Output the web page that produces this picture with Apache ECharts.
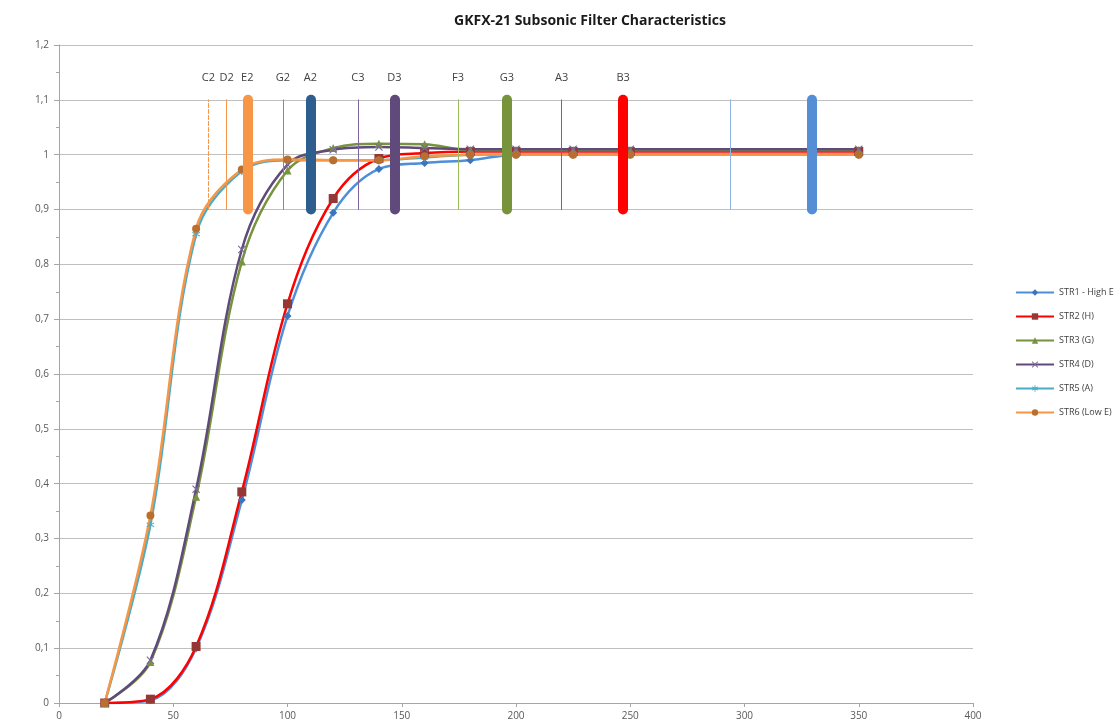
<!DOCTYPE html>
<html>
<head>
<meta charset="utf-8">
<script src="https://cdn.jsdelivr.net/npm/echarts@6/dist/echarts.min.js"></script>
<style>
  html, body { margin: 0; padding: 0; background: #fff; }
  #main { width: 1118px; height: 727px; }
</style>
</head>
<body>
<div id="main"></div>
<script>
// frequencies (Hz) measured
const freqs = [20, 40, 60, 80, 100, 120, 140, 160, 180, 200, 225, 250, 350];

const str1 = [0, 0.005, 0.1, 0.37, 0.706, 0.894, 0.974, 0.985, 0.99, 1.0, 1.0, 1.0, 1.0];
const str2 = [0, 0.007, 0.103, 0.385, 0.728, 0.92, 0.993, 1.003, 1.006, 1.006, 1.006, 1.006, 1.006];
const str3 = [0, 0.075, 0.376, 0.805, 0.971, 1.012, 1.02, 1.019, 1.008, 1.008, 1.008, 1.008, 1.008];
const str4 = [0, 0.078, 0.39, 0.827, 0.982, 1.009, 1.014, 1.012, 1.01, 1.01, 1.01, 1.01, 1.01];
const str5 = [0, 0.325, 0.855, 0.97, 0.99, 0.99, 0.99, 0.995, 1.0, 1.0, 1.0, 1.0, 1.0];
const str6 = [0, 0.342, 0.865, 0.973, 0.991, 0.99, 0.99, 0.997, 1.0, 1.0, 1.0, 1.0, 1.0];

const seriesNames = ['STR1 - High E', 'STR2 (H)', 'STR3 (G)', 'STR4 (D)', 'STR5 (A)', 'STR6 (Low E)'];

// note markers
const noteNames = ['C2', 'D2', 'E2', 'G2', 'A2', 'C3', 'D3', 'F3', 'G3', 'A3', 'B3', '', ''];
const noteFreqs = [65.4, 73.4, 82.4, 98.0, 110.0, 130.8, 146.8, 174.6, 196.0, 220.0, 246.9, 293.7, 329.6];
const noteLow = 0.9;
const noteHigh = 1.1;

const noteStyles = [
  { color: '#F79646', width: 1, type: 'dashed' },
  { color: '#F79646', width: 1 },
  { color: '#F79646', width: 10 },
  { color: '#6D8DBE', width: 1 },
  { color: '#2E5E8E', width: 10 },
  { color: '#8064A2', width: 1 },
  { color: '#604A7B', width: 10 },
  { color: '#9BBB59', width: 1 },
  { color: '#77933C', width: 10 },
  { color: '#FF3030', width: 1 },
  { color: '#FF0000', width: 10 },
  { color: '#8DB4E2', width: 1 },
  { color: '#558ED5', width: 10 },
];

const xMark = 'path://M0,1L1,0L5,4L9,0L10,1L6,5L10,9L9,10L5,6L1,10L0,9L4,5Z';
const starMark = 'path://M4.3,0H5.7V4L9,2L9.7,3.2L6.4,5L9.7,6.8L9,8L5.7,6V10H4.3V6L1,8L0.3,6.8L3.6,5L0.3,3.2L1,2L4.3,4Z';

function pairs(vals) {
  return freqs.map((f, i) => [f, vals[i]]);
}

const lineDefs = [
  { data: str1, color: '#4F8FD8', marker: '#3A75BE', symbol: 'diamond', size: 8 },
  { data: str2, color: '#FF0000', marker: '#953735', symbol: 'rect', size: 9 },
  { data: str3, color: '#77933C', marker: '#77933C', symbol: 'triangle', size: 8 },
  { data: str4, color: '#604A7B', marker: '#7B6A9B', symbol: xMark, size: 8 },
  { data: str5, color: '#4BACC6', marker: '#4BACC6', symbol: starMark, size: 8 },
  { data: str6, color: '#F79646', marker: '#B9702F', symbol: 'circle', size: 8 },
];

const series = lineDefs.map((d, i) => ({
  name: seriesNames[i],
  type: 'line',
  data: pairs(d.data),
  smooth: 0.35,
  symbol: d.symbol,
  symbolSize: d.size,
  lineStyle: { color: d.color, width: 2.5 },
  itemStyle: { color: d.marker },
  z: 2,
}));

series.push({
  name: 'notes',
  type: 'line',
  data: [],
  z: 4,
  markLine: {
    silent: true,
    symbol: ['none', 'none'],
    animation: false,
    label: {
      show: true,
      position: 'end',
      distance: 16,
      color: '#404040',
      fontSize: 11,
      fontFamily: 'Open Sans',
      formatter: p => p.name,
    },
    data: noteFreqs.map((f, i) => [
      {
        coord: [f, noteLow],
        name: noteNames[i],
        lineStyle: Object.assign({ cap: 'round', type: 'solid' }, noteStyles[i]),
      },
      { coord: [f, noteHigh] },
    ]),
  },
});

const chart = echarts.init(document.getElementById('main'));

chart.setOption({
  animation: false,
  textStyle: { fontFamily: 'Open Sans' },
  title: {
    text: 'GKFX-21 Subsonic Filter Characteristics',
    left: 585,
    textAlign: 'center',
    top: 9,
    textStyle: { fontSize: 14, fontWeight: 'bold', color: '#1a1a1a', fontFamily: 'Open Sans' },
  },
  legend: {
    data: seriesNames,
    orient: 'vertical',
    left: 1010,
    top: 283,
    itemWidth: 38,
    itemHeight: 8,
    itemGap: 15,
    textStyle: { fontSize: 9, color: '#404040' },
  },
  grid: { left: 59, right: 145, top: 45, bottom: 24 },
  xAxis: {
    type: 'value',
    min: 0,
    max: 400,
    interval: 50,
    splitLine: { show: false },
    axisLine: { lineStyle: { color: '#a6a6a6' } },
    axisTick: { show: true, length: 4, lineStyle: { color: '#a6a6a6' } },
    axisLabel: { color: '#595959', fontSize: 10, margin: 8 },
  },
  yAxis: {
    type: 'value',
    min: 0,
    max: 1.2,
    interval: 0.1,
    axisLine: { show: true, lineStyle: { color: '#a6a6a6' } },
    axisTick: { show: true, length: 5, lineStyle: { color: '#a6a6a6' } },
    minorTick: { show: true, splitNumber: 2, length: 3, lineStyle: { color: '#a6a6a6' } },
    splitLine: { lineStyle: { color: '#c0c0c0', width: 1 } },
    axisLabel: {
      color: '#595959',
      fontSize: 10,
      margin: 10,
      formatter: v => String(+v.toFixed(1)).replace('.', ','),
    },
  },
  series: series,
});
</script>
</body>
</html>
